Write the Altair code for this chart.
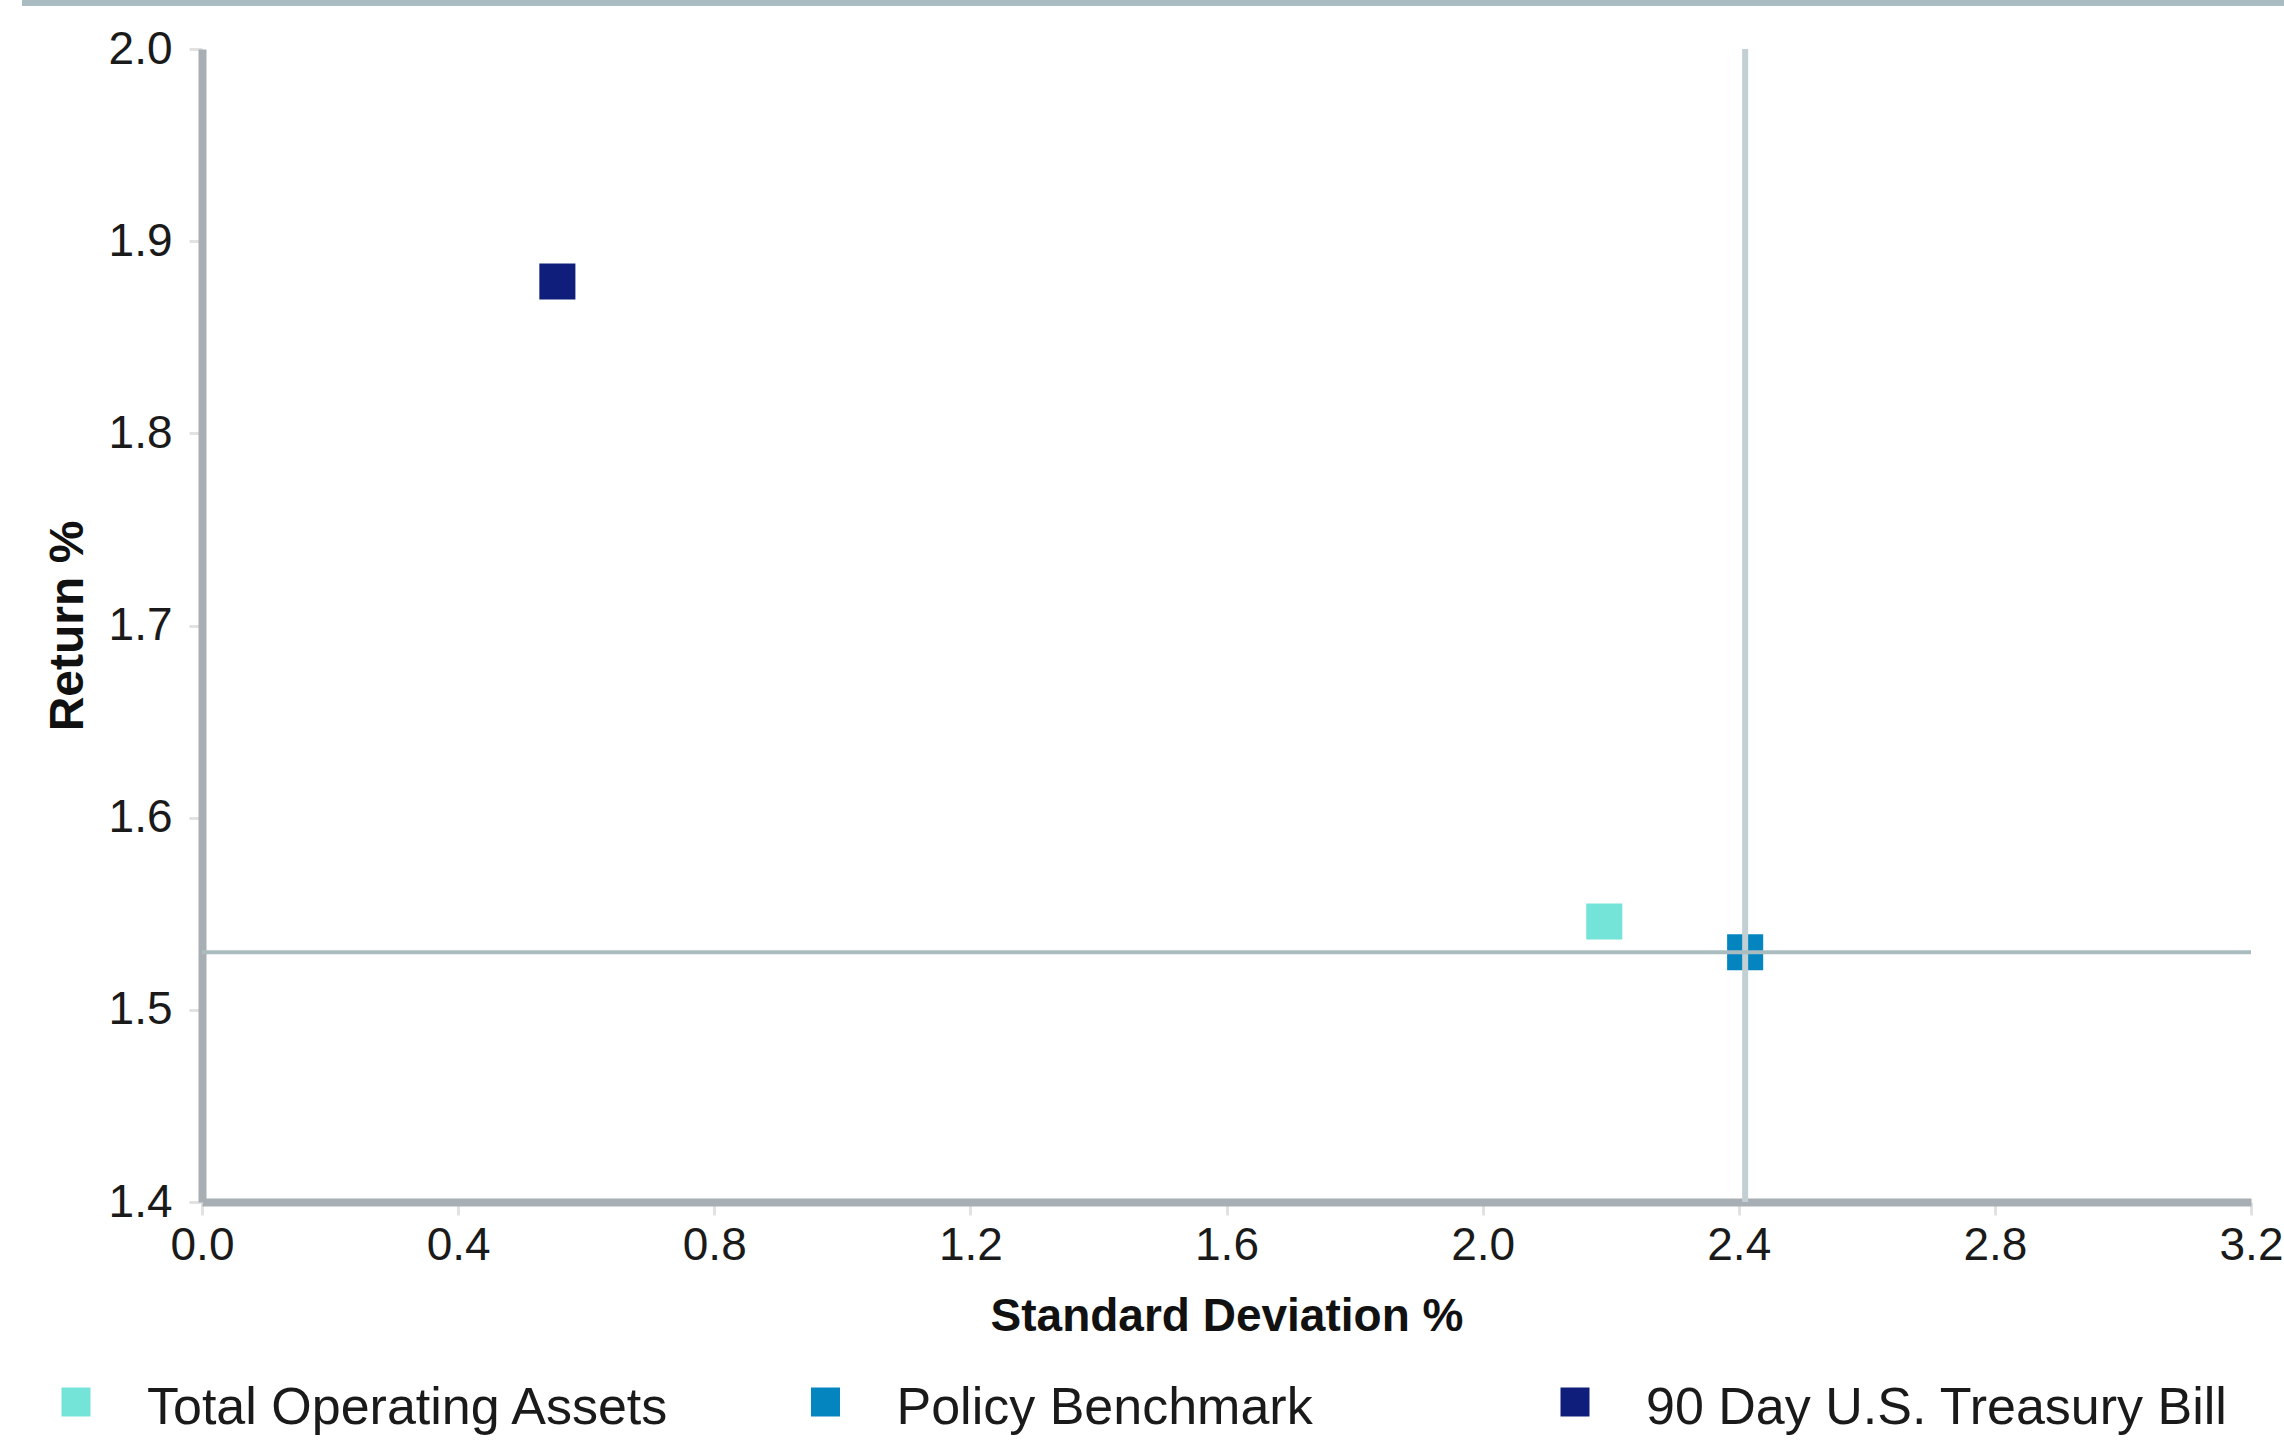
import altair as alt
import pandas as pd

# Risk / return figures for each series
series = ["Total Operating Assets", "Policy Benchmark", "90 Day U.S. Treasury Bill"]
std_dev = [2.19, 2.41, 0.555]
returns = [1.546, 1.53, 1.879]
colors = ["#74E3D8", "#0585C0", "#0F1E7B"]
legend_slot = [0, 1, 2]

x_ticks = [0.0, 0.4, 0.8, 1.2, 1.6, 2.0, 2.4, 2.8, 3.2]
y_ticks = [1.4, 1.5, 1.6, 1.7, 1.8, 1.9, 2.0]

FONT = "Liberation Sans"
W, H = 2049, 1153

df = pd.DataFrame({"series": series, "std": std_dev, "ret": returns, "slot": legend_slot})
bench = df[df["series"] == "Policy Benchmark"]

color = alt.Color(
    "series:N",
    scale=alt.Scale(domain=series, range=colors),
    legend=None,
)

x_enc = alt.X(
    "std:Q",
    scale=alt.Scale(domain=[0, 3.2], nice=False, zero=False),
    axis=alt.Axis(
        values=x_ticks,
        format=".1f",
        title="Standard Deviation %",
        titleX=W / 2,
        titleY=128,
        titleBaseline="alphabetic",
    ),
)
y_enc = alt.Y(
    "ret:Q",
    scale=alt.Scale(domain=[1.4, 2.0], nice=False, zero=False),
    axis=alt.Axis(
        values=y_ticks,
        format=".1f",
        title="Return %",
        titleX=-120,
        titleY=H / 2,
        titleBaseline="alphabetic",
        titleFontSize=48,
    ),
)

points = alt.Chart(df).mark_square(size=1300, opacity=1, filled=True).encode(
    x=x_enc, y=y_enc, color=color
)

# crosshair through the benchmark
v_rule = alt.Chart(bench).mark_rule(color="#C2CFD3", strokeWidth=6).encode(x="std:Q")
h_rule = alt.Chart(bench).mark_rule(color="#AABCC0", strokeWidth=4).encode(y="ret:Q")

# header strip along the top edge
strip = alt.Chart(pd.DataFrame({"k": [0]})).mark_rule(
    color="#A9BCC2", strokeWidth=6
).encode(x=alt.value(-180), x2=alt.value(2082), y=alt.value(-46))

plot = alt.layer(points, v_rule, h_rule, strip)

# legend row beneath the plot, one evenly spaced slot per series
slot_x = alt.X("slot:Q", scale=alt.Scale(domain=[0, 2], range=[-126, 1373]), axis=None)
leg_sym = alt.Chart(df).mark_square(size=841, opacity=1, filled=True).encode(
    x=slot_x, y=alt.value(1353), color=color
)
leg_txt = alt.Chart(df).mark_text(
    align="left", baseline="middle", dx=71, dy=6, fontSize=52, font=FONT, color="#1a1a1a"
).encode(x=slot_x, y=alt.value(1353), text="series:N")

legend_row = alt.layer(leg_sym, leg_txt)

chart = (
    alt.layer(plot, legend_row)
    .resolve_scale(x="independent")
    .properties(
        width=W,
        height=H,
        autosize=alt.AutoSizeParams(type="none"),
        padding={"left": 202, "top": 49, "right": 33, "bottom": 239},
        background="white",
    )
    .configure_view(stroke=None)
    .configure_axis(
        grid=False,
        domainColor="#A7AFB4",
        domainWidth=8,
        tickColor="#E2E2E2",
        tickWidth=3,
        tickSize=13,
        labelFont=FONT,
        labelFontSize=46,
        labelColor="#1a1a1a",
        labelFlush=False,
        labelOverlap=False,
        titleFont=FONT,
        titleFontSize=46,
        titleFontWeight="bold",
        titleColor="#111111",
    )
    .configure_axisX(labelPadding=8)
    .configure_axisY(labelPadding=17)
)

chart.save("out.html", embed_options={"renderer": "svg", "actions": False})
